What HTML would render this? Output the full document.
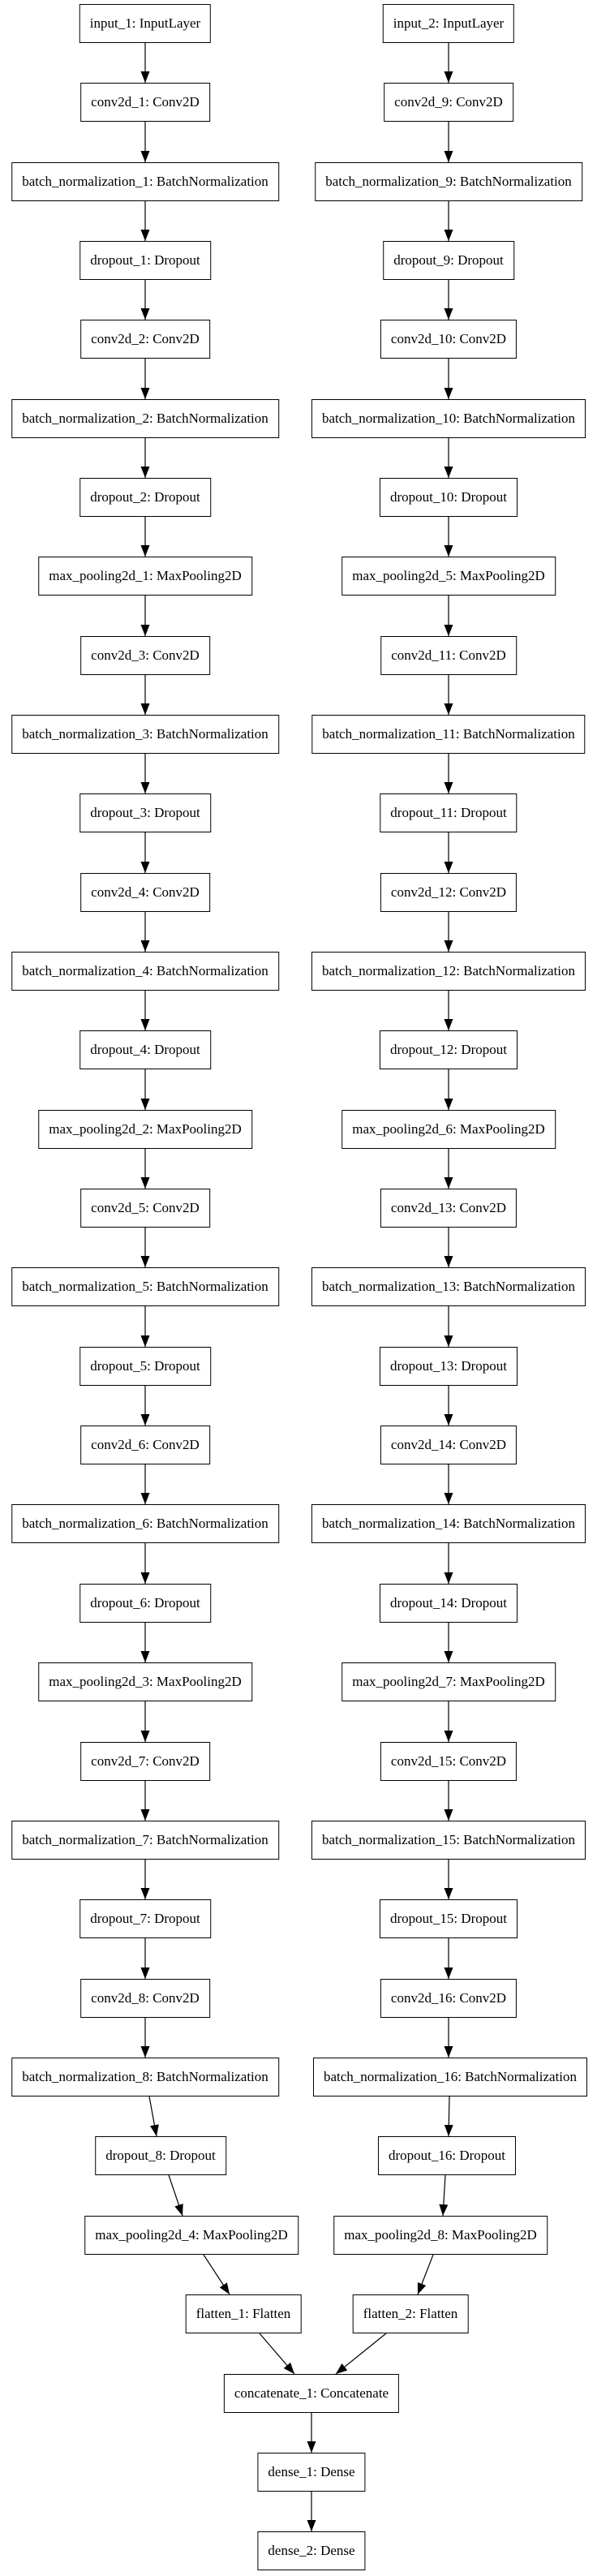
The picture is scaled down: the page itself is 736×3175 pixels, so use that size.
<!DOCTYPE html>
<html><head><meta charset="utf-8">
<style>
html,body{margin:0;padding:0;background:#fff;}
body{width:736px;height:3175px;position:relative;overflow:hidden;}
.b{position:absolute;height:48px;box-sizing:border-box;border:1px solid #000;padding:0 12px;line-height:46px;white-space:nowrap;font-family:"Liberation Serif",serif;font-size:17px;color:#000;transform:translateX(-50%);}
svg{position:absolute;left:0;top:0;}
</style></head><body>
<svg width="736" height="3175" id="s">
<defs><marker id="a" markerWidth="14" markerHeight="11" refX="14" refY="5.5" orient="auto" markerUnits="userSpaceOnUse"><path d="M0,0 L14,5.5 L0,11 z" fill="#000"/></marker></defs>
<g stroke="#000" stroke-width="1.2" fill="none" marker-end="url(#a)">
<line x1="179" y1="53" x2="179" y2="102"/><line x1="553" y1="53" x2="553" y2="102"/>
<line x1="179" y1="150" x2="179" y2="200"/><line x1="553" y1="150" x2="553" y2="200"/>
<line x1="179" y1="248" x2="179" y2="297"/><line x1="553" y1="248" x2="553" y2="297"/>
<line x1="179" y1="345" x2="179" y2="394"/><line x1="553" y1="345" x2="553" y2="394"/>
<line x1="179" y1="442" x2="179" y2="492"/><line x1="553" y1="442" x2="553" y2="492"/>
<line x1="179" y1="540" x2="179" y2="589"/><line x1="553" y1="540" x2="553" y2="589"/>
<line x1="179" y1="637" x2="179" y2="686"/><line x1="553" y1="637" x2="553" y2="686"/>
<line x1="179" y1="734" x2="179" y2="784"/><line x1="553" y1="734" x2="553" y2="784"/>
<line x1="179" y1="832" x2="179" y2="881"/><line x1="553" y1="832" x2="553" y2="881"/>
<line x1="179" y1="929" x2="179" y2="978"/><line x1="553" y1="929" x2="553" y2="978"/>
<line x1="179" y1="1026" x2="179" y2="1076"/><line x1="553" y1="1026" x2="553" y2="1076"/>
<line x1="179" y1="1124" x2="179" y2="1173"/><line x1="553" y1="1124" x2="553" y2="1173"/>
<line x1="179" y1="1221" x2="179" y2="1270"/><line x1="553" y1="1221" x2="553" y2="1270"/>
<line x1="179" y1="1318" x2="179" y2="1368"/><line x1="553" y1="1318" x2="553" y2="1368"/>
<line x1="179" y1="1416" x2="179" y2="1465"/><line x1="553" y1="1416" x2="553" y2="1465"/>
<line x1="179" y1="1513" x2="179" y2="1562"/><line x1="553" y1="1513" x2="553" y2="1562"/>
<line x1="179" y1="1610" x2="179" y2="1660"/><line x1="553" y1="1610" x2="553" y2="1660"/>
<line x1="179" y1="1708" x2="179" y2="1757"/><line x1="553" y1="1708" x2="553" y2="1757"/>
<line x1="179" y1="1805" x2="179" y2="1854"/><line x1="553" y1="1805" x2="553" y2="1854"/>
<line x1="179" y1="1902" x2="179" y2="1952"/><line x1="553" y1="1902" x2="553" y2="1952"/>
<line x1="179" y1="2000" x2="179" y2="2049"/><line x1="553" y1="2000" x2="553" y2="2049"/>
<line x1="179" y1="2097" x2="179" y2="2147"/><line x1="553" y1="2097" x2="553" y2="2147"/>
<line x1="179" y1="2195" x2="179" y2="2244"/><line x1="553" y1="2195" x2="553" y2="2244"/>
<line x1="179" y1="2292" x2="179" y2="2341"/><line x1="553" y1="2292" x2="553" y2="2341"/>
<line x1="179" y1="2389" x2="179" y2="2439"/><line x1="553" y1="2389" x2="553" y2="2439"/>
<line x1="179" y1="2487" x2="179" y2="2536"/><line x1="553" y1="2487" x2="553" y2="2536"/>
<line x1="184" y1="2584" x2="193" y2="2633"/><line x1="554" y1="2584" x2="553" y2="2633"/>
<line x1="208" y1="2681" x2="225" y2="2731"/><line x1="549" y1="2681" x2="546" y2="2731"/>
<line x1="251" y1="2779" x2="283" y2="2828"/><line x1="534" y1="2779" x2="515" y2="2828"/>
<line x1="320" y1="2876" x2="363" y2="2926"/><line x1="476" y1="2876" x2="414" y2="2926"/>
<line x1="384" y1="2974" x2="384" y2="3023"/>
<line x1="384" y1="3071" x2="384" y2="3120"/>
</g>
</svg>
<div class="b" style="left:179px;top:5px">input_1: InputLayer</div>
<div class="b" style="left:179px;top:102px">conv2d_1: Conv2D</div>
<div class="b" style="left:179px;top:200px">batch_normalization_1: BatchNormalization</div>
<div class="b" style="left:179px;top:297px">dropout_1: Dropout</div>
<div class="b" style="left:179px;top:394px">conv2d_2: Conv2D</div>
<div class="b" style="left:179px;top:492px">batch_normalization_2: BatchNormalization</div>
<div class="b" style="left:179px;top:589px">dropout_2: Dropout</div>
<div class="b" style="left:179px;top:686px">max_pooling2d_1: MaxPooling2D</div>
<div class="b" style="left:179px;top:784px">conv2d_3: Conv2D</div>
<div class="b" style="left:179px;top:881px">batch_normalization_3: BatchNormalization</div>
<div class="b" style="left:179px;top:978px">dropout_3: Dropout</div>
<div class="b" style="left:179px;top:1076px">conv2d_4: Conv2D</div>
<div class="b" style="left:179px;top:1173px">batch_normalization_4: BatchNormalization</div>
<div class="b" style="left:179px;top:1270px">dropout_4: Dropout</div>
<div class="b" style="left:179px;top:1368px">max_pooling2d_2: MaxPooling2D</div>
<div class="b" style="left:179px;top:1465px">conv2d_5: Conv2D</div>
<div class="b" style="left:179px;top:1562px">batch_normalization_5: BatchNormalization</div>
<div class="b" style="left:179px;top:1660px">dropout_5: Dropout</div>
<div class="b" style="left:179px;top:1757px">conv2d_6: Conv2D</div>
<div class="b" style="left:179px;top:1854px">batch_normalization_6: BatchNormalization</div>
<div class="b" style="left:179px;top:1952px">dropout_6: Dropout</div>
<div class="b" style="left:179px;top:2049px">max_pooling2d_3: MaxPooling2D</div>
<div class="b" style="left:179px;top:2147px">conv2d_7: Conv2D</div>
<div class="b" style="left:179px;top:2244px">batch_normalization_7: BatchNormalization</div>
<div class="b" style="left:179px;top:2341px">dropout_7: Dropout</div>
<div class="b" style="left:179px;top:2439px">conv2d_8: Conv2D</div>
<div class="b" style="left:179px;top:2536px">batch_normalization_8: BatchNormalization</div>
<div class="b" style="left:198px;top:2633px">dropout_8: Dropout</div>
<div class="b" style="left:236px;top:2731px">max_pooling2d_4: MaxPooling2D</div>
<div class="b" style="left:300px;top:2828px">flatten_1: Flatten</div>

<div class="b" style="left:553px;top:5px">input_2: InputLayer</div>
<div class="b" style="left:553px;top:102px">conv2d_9: Conv2D</div>
<div class="b" style="left:553px;top:200px">batch_normalization_9: BatchNormalization</div>
<div class="b" style="left:553px;top:297px">dropout_9: Dropout</div>
<div class="b" style="left:553px;top:394px">conv2d_10: Conv2D</div>
<div class="b" style="left:553px;top:492px">batch_normalization_10: BatchNormalization</div>
<div class="b" style="left:553px;top:589px">dropout_10: Dropout</div>
<div class="b" style="left:553px;top:686px">max_pooling2d_5: MaxPooling2D</div>
<div class="b" style="left:553px;top:784px">conv2d_11: Conv2D</div>
<div class="b" style="left:553px;top:881px">batch_normalization_11: BatchNormalization</div>
<div class="b" style="left:553px;top:978px">dropout_11: Dropout</div>
<div class="b" style="left:553px;top:1076px">conv2d_12: Conv2D</div>
<div class="b" style="left:553px;top:1173px">batch_normalization_12: BatchNormalization</div>
<div class="b" style="left:553px;top:1270px">dropout_12: Dropout</div>
<div class="b" style="left:553px;top:1368px">max_pooling2d_6: MaxPooling2D</div>
<div class="b" style="left:553px;top:1465px">conv2d_13: Conv2D</div>
<div class="b" style="left:553px;top:1562px">batch_normalization_13: BatchNormalization</div>
<div class="b" style="left:553px;top:1660px">dropout_13: Dropout</div>
<div class="b" style="left:553px;top:1757px">conv2d_14: Conv2D</div>
<div class="b" style="left:553px;top:1854px">batch_normalization_14: BatchNormalization</div>
<div class="b" style="left:553px;top:1952px">dropout_14: Dropout</div>
<div class="b" style="left:553px;top:2049px">max_pooling2d_7: MaxPooling2D</div>
<div class="b" style="left:553px;top:2147px">conv2d_15: Conv2D</div>
<div class="b" style="left:553px;top:2244px">batch_normalization_15: BatchNormalization</div>
<div class="b" style="left:553px;top:2341px">dropout_15: Dropout</div>
<div class="b" style="left:553px;top:2439px">conv2d_16: Conv2D</div>
<div class="b" style="left:555px;top:2536px">batch_normalization_16: BatchNormalization</div>
<div class="b" style="left:551px;top:2633px">dropout_16: Dropout</div>
<div class="b" style="left:543px;top:2731px">max_pooling2d_8: MaxPooling2D</div>
<div class="b" style="left:506px;top:2828px">flatten_2: Flatten</div>

<div class="b" style="left:384px;top:2926px">concatenate_1: Concatenate</div>
<div class="b" style="left:384px;top:3023px">dense_1: Dense</div>
<div class="b" style="left:384px;top:3120px">dense_2: Dense</div>
</body></html>
